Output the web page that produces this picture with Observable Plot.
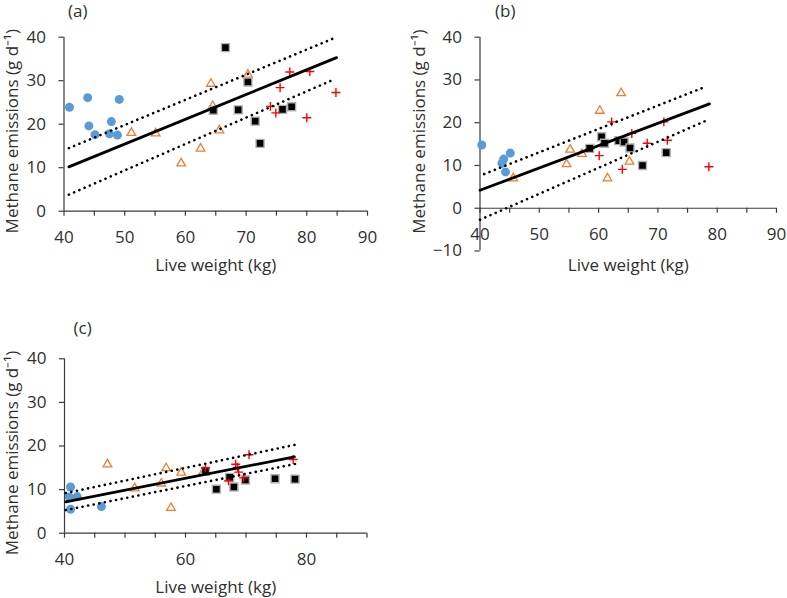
<!DOCTYPE html>
<html>
<head>
<meta charset="utf-8">
<script src="https://cdn.jsdelivr.net/npm/d3@7"></script>
<script src="https://cdn.jsdelivr.net/npm/@observablehq/plot@0.6"></script>
<style>
  body { margin: 0; background: #fff; }
  #wrap { position: relative; width: 787px; height: 598px; font-family: "Open Sans", sans-serif; }
  #wrap svg { position: absolute; overflow: visible; }
</style>
</head>
<body>
<div id="wrap"></div>
<script>
// ---------- shared labels / ticks ----------
const xTicks = [40, 45, 50, 55, 60, 65, 70, 75, 80, 85, 90];
const yTicksAC = [0, 10, 20, 30, 40];
const yTicksB = [-10, 0, 10, 20, 30, 40];
const xTitle = "Live weight (kg)";
const yTitle = "Methane emissions (g d⁻¹)";
const panelNames = ["(a)", "(b)", "(c)"];

// ---------- panel (a) ----------
const circlesA = [[40.9,23.9],[43.9,26.1],[44.1,19.6],[45.1,17.6],[47.5,17.8],[47.8,20.6],[48.8,17.5],[49.1,25.7]];
const trianglesA = [[51.1,18.0],[55.1,17.9],[59.3,11.0],[62.5,14.4],[64.2,29.3],[64.5,24.2],[65.6,18.6],[70.3,31.4]];
const squaresA = [[66.6,37.6],[64.6,23.2],[68.7,23.3],[70.3,29.7],[71.5,20.7],[72.3,15.6],[76.0,23.4],[77.5,24.0]];
const plusA = [[74.0,24.1],[74.9,22.6],[75.6,28.4],[77.2,32.0],[80.5,32.1],[80.0,21.5],[84.8,27.3]];
const fitA = [[40.8,10.2],[84.9,35.3]];
const upperA = [[40.8,14.5],[84.2,39.6]];
const lowerA = [[40.8,3.8],[84.5,30.3]];

// ---------- panel (b) ----------
const circlesB = [[40.3,14.8],[43.7,10.5],[44.0,11.5],[44.3,8.5],[45.1,12.9]];
const trianglesB = [[45.6,7.0],[54.6,10.3],[55.2,13.7],[57.2,12.7],[60.2,22.8],[63.8,26.9],[61.5,7.0],[65.2,10.9]];
const squaresB = [[58.5,14.0],[60.5,16.7],[61.0,15.2],[63.4,15.8],[64.3,15.5],[65.3,14.1],[67.4,10.0],[71.4,13.0]];
const plusB = [[60.1,12.3],[62.2,20.2],[64.0,9.1],[65.6,17.5],[68.2,15.2],[71.0,20.2],[71.6,15.9],[78.6,9.7]];
const fitB = [[40.0,4.2],[78.7,24.4]];
const upperB = [[40.7,8.0],[78.0,28.4]];
const lowerB = [[40.0,-2.7],[78.0,20.4]];

// ---------- panel (c) ----------
const circlesC = [[41.0,10.6],[40.8,8.3],[42.1,8.4],[41.0,5.5],[46.1,6.1]];
const trianglesC = [[47.1,15.8],[51.6,10.3],[56.0,11.4],[56.8,14.9],[59.3,13.9],[57.6,5.8],[62.9,14.0]];
const squaresC = [[63.3,14.2],[65.1,10.1],[67.3,12.8],[68.0,10.6],[69.9,12.2],[74.8,12.5],[78.1,12.4]];
const plusC = [[63.3,15.0],[67.1,12.0],[68.3,15.8],[68.6,15.1],[68.8,14.0],[69.6,12.7],[70.5,18.0],[77.8,16.9]];
const fitC = [[40.2,7.2],[78.0,17.5]];
const upperC = [[40.2,9.2],[78.2,20.3]];
const lowerC = [[40.2,5.3],[78.2,15.9]];

// ---------- styles ----------
const ink = "#3b3b3b";
const textInk = "#303030";
const blue = "#5B9BD5", orange = "#ED7D31", red = "#FF0000";
const FS = 17;

function panel(cfg) {
  const xy = {x: d => d[0], y: d => d[1]};
  const marks = [
    Plot.ruleY([0], {stroke: ink, strokeWidth: 1.2}),
    Plot.ruleX([40], {stroke: ink, strokeWidth: 1.2}),
    Plot.axisY({ticks: cfg.yTicks, tickSize: 5, tickPadding: 13, label: null, stroke: ink, fill: textInk, strokeWidth: 1.2}),
    Plot.axisX({ticks: xTicks, tickFormat: d => d % cfg.labelStep === 0 ? String(d) : "", tickSize: 5, tickPadding: 15,
      label: null, stroke: ink, fill: textInk, strokeWidth: 1.2, dy: cfg.axisDy || 0}),
    Plot.dot(cfg.circles, {...xy, r: 4.5, fill: blue, stroke: "none"}),
    Plot.dot(cfg.triangles, {...xy, symbol: "triangle", r: 3.2, fill: "none", stroke: orange, strokeWidth: 1.3}),
    Plot.dot(cfg.squares, {...xy, symbol: "square", r: 4.5, fill: "#000", stroke: "#b0b0b0", strokeWidth: 1.4}),
    Plot.dot(cfg.plus, {...xy, symbol: "plus", r: 3.0, stroke: red, strokeWidth: 1.4}),
    Plot.line(cfg.fit, {...xy, stroke: "#000", strokeWidth: 2.8}),
    Plot.line(cfg.upper, {...xy, stroke: "#000", strokeWidth: 2.6, strokeDasharray: "0.1,5.6", strokeLinecap: "round"}),
    Plot.line(cfg.lower, {...xy, stroke: "#000", strokeWidth: 2.6, strokeDasharray: "0.1,5.6", strokeLinecap: "round"}),
    Plot.text([cfg.name], {text: d => d, frameAnchor: "top-left", dx: cfg.nameDx, dy: cfg.nameDy,
      textAnchor: "start", lineAnchor: "middle", fill: textInk, fontSize: FS}),
    Plot.text([yTitle], {text: d => d, frameAnchor: "left", rotate: -90, dx: cfg.yTitleDx, dy: cfg.yTitleDy,
      textAnchor: "middle", lineAnchor: "middle", fill: textInk, fontSize: FS}),
    Plot.text([xTitle], {text: d => d, frameAnchor: "bottom", dy: cfg.xTitleDy,
      textAnchor: "middle", lineAnchor: "middle", fill: textInk, fontSize: FS})
  ];
  const svg = Plot.plot({
    width: cfg.width, height: cfg.height,
    marginLeft: cfg.ml, marginRight: cfg.mr, marginTop: cfg.mt, marginBottom: cfg.mb,
    x: {domain: [40, 90]},
    y: {domain: cfg.yDomain},
    style: {fontFamily: '"Open Sans", sans-serif', fontSize: FS + "px", background: "transparent", color: textInk, overflow: "visible"},
    marks
  });
  svg.style.left = cfg.left + "px";
  svg.style.top = cfg.top + "px";
  return svg;
}

const wrap = document.getElementById("wrap");
wrap.appendChild(panel({
  name: panelNames[0], left: 0, top: 0, width: 393, height: 280, ml: 63.5, mr: 26, mt: 36.7, mb: 69.3,
  yDomain: [0, 40], yTicks: yTicksAC, labelStep: 10,
  circles: circlesA, triangles: trianglesA, squares: squaresA, plus: plusA, fit: fitA, upper: upperA, lower: lowerA,
  nameDx: 4, nameDy: -26, yTitleDx: -51, yTitleDy: 7, xTitleDy: 54
}));
wrap.appendChild(panel({
  name: panelNames[1], left: 400, top: 0, width: 387, height: 280, ml: 79.5, mr: 11, mt: 36.7, mb: 29.5,
  yDomain: [-10, 40], yTicks: yTicksB, labelStep: 10, axisDy: -42.7,
  circles: circlesB, triangles: trianglesB, squares: squaresB, plus: plusB, fit: fitB, upper: upperB, lower: lowerB,
  nameDx: 15, nameDy: -26, yTitleDx: -60, yTitleDy: -12.5, xTitleDy: 15
}));
wrap.appendChild(panel({
  name: panelNames[2], left: 0, top: 300, width: 393, height: 298, ml: 64, mr: 26.5, mt: 58.3, mb: 65.3,
  yDomain: [0, 40], yTicks: yTicksAC, labelStep: 20,
  circles: circlesC, triangles: trianglesC, squares: squaresC, plus: plusC, fit: fitC, upper: upperC, lower: lowerC,
  nameDx: 9, nameDy: -30, yTitleDx: -51.5, yTitleDy: 7, xTitleDy: 54
}));
</script>
</body>
</html>
